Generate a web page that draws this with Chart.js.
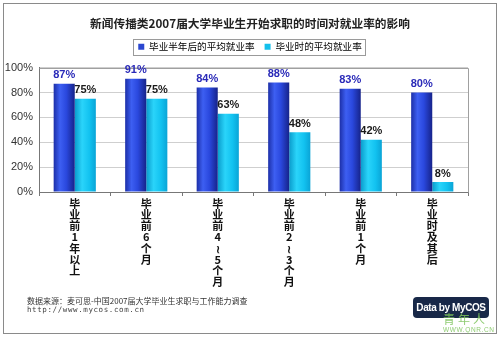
<!DOCTYPE html>
<html>
<head>
<meta charset="utf-8">
<script src="https://cdn.jsdelivr.net/npm/chart.js@4.4.1/dist/chart.umd.min.js"></script>
<style>
  html, body { margin: 0; padding: 0; background: #fff; }
  #wrap { position: relative; width: 500px; height: 337px; overflow: hidden; }
  #frame { position: absolute; left: 3px; top: 3px; width: 492px; height: 329px; border: 1px solid #8a8a8a; pointer-events: none; }
  #myChart { position: absolute; left: 0; top: 0; }
  .src { position: absolute; left: 27px; font-family: "Noto Sans CJK SC", sans-serif; font-size: 8px; color: #333; white-space: nowrap; }
  .url { position: absolute; left: 27px; top: 305px; font-family: "DejaVu Sans Mono", monospace; font-size: 7.5px; color: #444; letter-spacing: 0.6px; }
  #logo { position: absolute; left: 413px; top: 297px; width: 76px; height: 21px; background: #182848; border-radius: 4px;
          color: #fff; font-family: "Liberation Sans", Arial, sans-serif; font-weight: bold; font-size: 10px; line-height: 21px; text-align: center; letter-spacing: -0.4px; white-space: nowrap; }
  #wm { position: absolute; left: 443px; top: 312px; color: #7cc35a; font-family: "Noto Sans CJK SC", sans-serif; font-size: 12px; line-height: 13px; letter-spacing: 3px; opacity: 0.85; }
  #wm2 { position: absolute; left: 443px; top: 326px; color: #7cc35a; font-family: "Liberation Sans", sans-serif; font-size: 6.5px; letter-spacing: 0.6px; opacity: 0.85; }
</style>
</head>
<body>
<div id="wrap">
  <canvas id="myChart" width="500" height="337"></canvas>
  <div id="frame"></div>
  <div class="src" style="top:295px">数据来源：麦可思-中国2007届大学毕业生求职与工作能力调查</div>
  <div class="url">http://www.mycos.com.cn</div>
  <div id="logo">Data by MyCOS</div>
  <div id="wm">青年人</div>
  <div id="wm2">WWW.QNR.CN</div>
</div>
<script>
const titleText = '新闻传播类2007届大学毕业生开始求职的时间对就业率的影响';
const categories = [
    ['毕', '业', '前', '1', '年', '以', '上'],
    ['毕', '业', '前', '6', '个', '月'],
    ['毕', '业', '前', '4', '≀', '5', '个', '月'],
    ['毕', '业', '前', '2', '≀', '3', '个', '月'],
    ['毕', '业', '前', '1', '个', '月'],
    ['毕', '业', '时', '及', '其', '后']
];
const halfYearRate = [87, 91, 84, 88, 83, 80];
const graduationRate = [75, 75, 63, 48, 42, 8];
const seriesNames = ['毕业半年后的平均就业率', '毕业时的平均就业率'];
const yTicks = [0, 20, 40, 60, 80, 100];

const catPct = 0.59;

// horizontal shading across each bar, like the original 3D-ish look
const barGradient = (stops, side) => context => {
    const chart = context.chart;
    const xs = chart.scales.x;
    if (!chart.chartArea || !xs || context.dataIndex === undefined) return stops[1][1];
    const center = xs.getPixelForValue(context.dataIndex);
    const w = xs.width / categories.length * catPct / 2;
    const left = side === 0 ? center - w : center;
    const g = chart.ctx.createLinearGradient(left, 0, left + w, 0);
    stops.forEach(([pos, col]) => g.addColorStop(pos, col));
    return g;
};

const blueStops = [[0, '#1c2fa8'], [0.3, '#3d5ff2'], [0.6, '#2a48de'], [1, '#16238a']];
const cyanStops = [[0, '#0a9ccc'], [0.35, '#2ad4fa'], [0.7, '#12c2f0'], [1, '#0aa4d6']];

// leave a bit more room under the legend before the plot starts
const legendGap = {
    id: 'legendGap',
    afterInit(chart) {
        const fit = chart.legend.fit;
        chart.legend.fit = function () {
            fit.call(this);
            this.height += 6;
        };
    }
};

const legendBorder = {
    id: 'legendBorder',
    afterDraw(chart) {
        const boxes = chart.legend.legendHitBoxes;
        if (!boxes || !boxes.length) return;
        const left = Math.min(...boxes.map(b => b.left)) - 5;
        const right = Math.max(...boxes.map(b => b.left + b.width)) + 4;
        const top = boxes[0].top - 3;
        const bottom = boxes[0].top + boxes[0].height + 3;
        const ctx = chart.ctx;
        ctx.save();
        ctx.strokeStyle = '#9a9a9a';
        ctx.lineWidth = 1;
        ctx.strokeRect(Math.round(left) + 0.5, Math.round(top) + 0.5, Math.round(right - left), Math.round(bottom - top));
        ctx.restore();
    }
};

const plotFrame = {
    id: 'plotFrame',
    beforeDatasetsDraw(chart) {
        const {left, right, top, bottom} = chart.chartArea;
        const ctx = chart.ctx;
        ctx.save();
        ctx.strokeStyle = '#a0a0a0';
        ctx.lineWidth = 1;
        ctx.beginPath();
        ctx.moveTo(Math.round(left) + 0.5, Math.round(top) + 0.5);
        ctx.lineTo(Math.round(right) + 0.5, Math.round(top) + 0.5);
        ctx.lineTo(Math.round(right) + 0.5, Math.round(bottom) + 0.5);
        ctx.stroke();
        ctx.restore();
    }
};

const valueLabels = {
    id: 'valueLabels',
    afterDatasetsDraw(chart) {
        const ctx = chart.ctx;
        ctx.save();
        ctx.font = 'bold 11px "Liberation Sans", Arial, sans-serif';
        ctx.textAlign = 'center';
        ctx.textBaseline = 'bottom';
        chart.data.datasets.forEach((ds, i) => {
            ctx.fillStyle = i === 0 ? '#2a2ab8' : '#1a1a1a';
            chart.getDatasetMeta(i).data.forEach((bar, j) => {
                ctx.fillText(ds.data[j] + '%', bar.x, bar.y - 3);
            });
        });
        ctx.restore();
    }
};

const ctx = document.getElementById('myChart').getContext('2d');
new Chart(ctx, {
    type: 'bar',
    data: {
        labels: categories,
        datasets: [
            {label: seriesNames[0], data: halfYearRate, backgroundColor: barGradient(blueStops, 0), borderWidth: 0},
            {label: seriesNames[1], data: graduationRate, backgroundColor: barGradient(cyanStops, 1), borderWidth: 0}
        ]
    },
    options: {
        responsive: false,
        animation: false,
        layout: {padding: {left: 3, right: 3, top: 0, bottom: 45}},
        datasets: {bar: {categoryPercentage: catPct, barPercentage: 1}},
        plugins: {
            title: {
                display: true,
                text: titleText,
                color: '#222',
                font: {family: '"Noto Sans CJK SC", sans-serif', size: 11.7, weight: 'bold'},
                padding: {top: 17, bottom: 1}
            },
            legend: {
                position: 'top',
                labels: {
                    boxWidth: 6,
                    boxHeight: 6,
                    padding: 10,
                    color: '#444',
                    font: {family: '"Noto Sans CJK SC", sans-serif', size: 9.6},
                    generateLabels: chart => seriesNames.map((name, i) => ({
                        text: name,
                        fillStyle: i === 0 ? '#2b47d0' : '#14c0ec',
                        strokeStyle: i === 0 ? '#2b47d0' : '#14c0ec',
                        lineWidth: 0,
                        datasetIndex: i
                    }))
                }
            },
            tooltip: {enabled: false}
        },
        scales: {
            x: {
                afterFit: s => { s.height = 100; },
                border: {color: '#777'},
                grid: {drawOnChartArea: false, drawTicks: true, tickLength: 4, color: '#777', offset: true},
                ticks: {
                    color: '#111',
                    padding: 2,
                    maxRotation: 0,
                    autoSkip: false,
                    font: {family: '"Noto Sans CJK SC", sans-serif', size: 11, weight: 'bold', lineHeight: 1.02}
                }
            },
            y: {
                min: 0,
                max: 100,
                afterFit: s => { s.width = 36; },
                afterBuildTicks: s => { s.ticks = yTicks.map(v => ({value: v})); },
                border: {color: '#777'},
                grid: {color: '#cfcfcf', drawTicks: false},
                ticks: {
                    color: '#333',
                    padding: 6,
                    font: {family: '"Liberation Sans", Arial, sans-serif', size: 11},
                    callback: v => v + '%'
                }
            },
            // empty right-hand scale: keeps the plot clear of the right edge while title/legend stay centred
            yRight: {
                position: 'right',
                min: 0,
                max: 100,
                afterFit: s => { s.width = 29; },
                grid: {display: false},
                border: {display: false},
                ticks: {display: false}
            }
        }
    },
    plugins: [legendGap, legendBorder, plotFrame, valueLabels]
});
</script>
</body>
</html>
